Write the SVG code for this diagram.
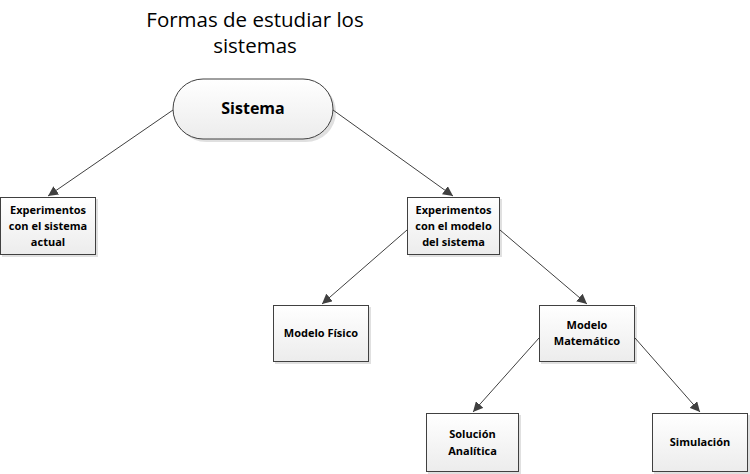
<svg xmlns="http://www.w3.org/2000/svg" width="750" height="474" viewBox="0 0 750 474">
<style>
.box{fill:url(#g);stroke:#404040;stroke-width:1}
.sh{fill:#000;opacity:0.12}
.t{font-family:"Open Sans","Liberation Sans",sans-serif;font-weight:bold;font-size:11px;fill:#000;text-anchor:middle}
.title{font-family:"Open Sans","Liberation Sans",sans-serif;font-size:20.5px;fill:#000;text-anchor:middle}
.c{stroke:#404040;stroke-width:1;fill:none;marker-end:url(#a)}
</style>
<defs>
<linearGradient id="g" x1="0" y1="0" x2="0" y2="1">
<stop offset="0" stop-color="#ffffff"/>
<stop offset="1" stop-color="#ececec"/>
</linearGradient>
<marker id="a" viewBox="0 0 10 10" refX="10" refY="5" markerWidth="10" markerHeight="10" markerUnits="userSpaceOnUse" orient="auto">
<path d="M0,0 L10,5 L0,10 Z" fill="#404040"/>
</marker>
</defs>
<rect width="750" height="474" fill="#fff"/>
<g id="title">
<text class="title" x="255" y="27">Formas de estudiar los</text>
<text class="title" x="255" y="53">sistemas</text>
</g>
<g id="connectors">
<line class="c" x1="173" y1="110" x2="48" y2="196"/>
<line class="c" x1="333" y1="110" x2="453" y2="196"/>
<line class="c" x1="407" y1="230" x2="322" y2="304"/>
<line class="c" x1="500" y1="230" x2="587" y2="304"/>
<line class="c" x1="539" y1="338" x2="473" y2="412"/>
<line class="c" x1="635" y1="338" x2="700" y2="412"/>
</g>
<g id="sistema">
<rect class="sh" x="176" y="82" width="160" height="60" rx="30"/>
<rect class="box" x="173" y="79" width="160" height="60" rx="30"/>
<text class="t" x="253" y="114" style="font-size:16px">Sistema</text>
</g>
<g id="exp-actual">
<rect class="sh" x="2" y="199" width="96" height="58"/>
<rect class="box" x="0.5" y="197.5" width="95" height="57"/>
<text class="t" x="48" y="214">Experimentos</text>
<text class="t" x="48" y="230">con el sistema</text>
<text class="t" x="48" y="246">actual</text>
</g>
<g id="exp-modelo">
<rect class="sh" x="409" y="199" width="93" height="58"/>
<rect class="box" x="407.5" y="197.5" width="92" height="57"/>
<text class="t" x="453.5" y="214">Experimentos</text>
<text class="t" x="453.5" y="230">con el modelo</text>
<text class="t" x="453.5" y="246">del sistema</text>
</g>
<g id="modelo-fisico">
<rect class="sh" x="275" y="307" width="96" height="57"/>
<rect class="box" x="273.5" y="305.5" width="95" height="56"/>
<text class="t" x="321" y="337">Modelo Físico</text>
</g>
<g id="modelo-matematico">
<rect class="sh" x="541" y="307" width="96" height="57"/>
<rect class="box" x="539.5" y="305.5" width="95" height="56"/>
<text class="t" x="587" y="329">Modelo</text>
<text class="t" x="587" y="345">Matemático</text>
</g>
<g id="solucion-analitica">
<rect class="sh" x="428" y="415" width="93" height="59"/>
<rect class="box" x="426.5" y="413.5" width="92" height="58"/>
<text class="t" x="472.5" y="438">Solución</text>
<text class="t" x="472.5" y="455">Analítica</text>
</g>
<g id="simulacion">
<rect class="sh" x="654" y="415" width="96" height="59"/>
<rect class="box" x="652.5" y="413.5" width="95" height="58"/>
<text class="t" x="700" y="446">Simulación</text>
</g>
</svg>
